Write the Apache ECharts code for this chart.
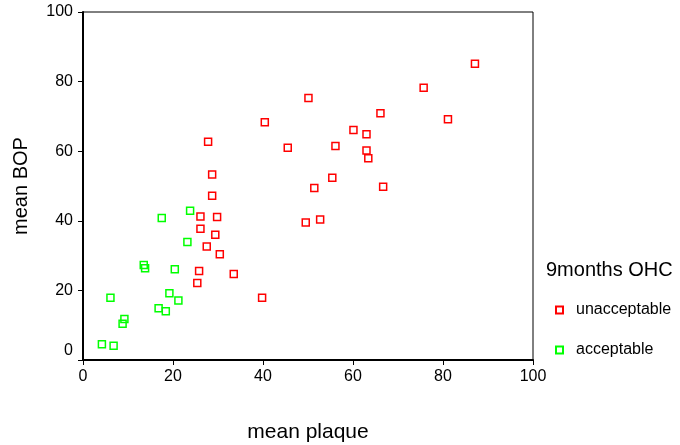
<!DOCTYPE html>
<html>
<head>
<meta charset="utf-8">
<script src="https://cdn.jsdelivr.net/npm/echarts@6/dist/echarts.min.js"></script>
<style>html,body{margin:0;padding:0;background:#fff}#c{width:680px;height:445px}</style>
</head>
<body>
<div id="c"></div>
<script>
var xTicks = [0, 20, 40, 60, 80, 100];
var yTicks = [0, 20, 40, 60, 80, 100];
var seriesNames = ['unacceptable', 'acceptable'];
var unacceptable = [
  [27.8, 62.7], [28.7, 53.3], [28.7, 47.2], [26.1, 41.2], [29.8, 41.1],
  [26.1, 37.7], [29.4, 36.0], [27.5, 32.6], [30.4, 30.4], [25.8, 25.6],
  [25.4, 22.1], [33.5, 24.7], [39.8, 17.9], [40.4, 68.3], [45.5, 61.0],
  [50.1, 75.3], [87.1, 85.1], [75.7, 78.2], [81.1, 69.2], [66.1, 70.9],
  [60.1, 66.1], [63.0, 64.9], [56.1, 61.5], [63.0, 60.2], [63.4, 58.0],
  [55.4, 52.4], [51.4, 49.4], [66.7, 49.8], [49.5, 39.5], [52.7, 40.4]
];
var acceptable = [
  [4.2, 4.5], [6.8, 4.1], [6.1, 17.9], [8.8, 10.4], [9.2, 11.8],
  [13.5, 27.3], [13.8, 26.4], [16.8, 14.9], [18.4, 14.0], [19.2, 19.2],
  [17.5, 40.8], [20.4, 26.1], [21.2, 17.1], [23.2, 33.9], [23.8, 42.9]
];
var FONT = 'Liberation Sans, Arial, sans-serif';
var chart = echarts.init(document.getElementById('c'), null, {renderer: 'canvas'});
function mkSeries(name, data, color) {
  return {
    name: name, type: 'scatter', data: data, symbol: 'rect', symbolSize: 7,
    itemStyle: {color: 'rgba(255,255,255,0)', borderColor: color, borderWidth: 1.5, opacity: 1},
    emphasis: {disabled: true}
  };
}
chart.setOption({
  animation: false,
  backgroundColor: '#fff',
  title: {
    text: '9months OHC', left: 541, top: 255,
    textStyle: {fontFamily: FONT, fontSize: 20, fontWeight: 'normal', color: '#000'}
  },
  legend: {
    orient: 'vertical', left: 555, top: 302, padding: 0, itemGap: 24, itemWidth: 7, itemHeight: 7,
    data: seriesNames,
    textStyle: {fontFamily: FONT, fontSize: 16, color: '#000', padding: [3, 0, 0, 8]}
  },
  grid: {
    left: 83, right: 147, top: 12, bottom: 85, containLabel: false, outerBoundsMode: 'none',
    show: true, borderColor: '#000', borderWidth: 1, backgroundColor: 'transparent'
  },
  xAxis: {
    type: 'value', min: xTicks[0], max: xTicks[xTicks.length - 1], interval: 20,
    name: 'mean plaque', nameLocation: 'middle', nameGap: 62,
    nameTextStyle: {fontFamily: FONT, fontSize: 21, color: '#000'},
    axisLine: {show: true, onZero: false, lineStyle: {color: '#000', width: 2}},
    axisTick: {show: true, length: 5, lineStyle: {color: '#000', width: 1}},
    axisLabel: {fontFamily: FONT, fontSize: 16, color: '#000', margin: 9},
    splitLine: {show: false}
  },
  yAxis: {
    type: 'value', min: yTicks[0], max: yTicks[yTicks.length - 1], interval: 20,
    name: 'mean BOP', nameLocation: 'middle', nameGap: 52,
    nameTextStyle: {fontFamily: FONT, fontSize: 20, color: '#000'},
    axisLine: {show: true, onZero: false, lineStyle: {color: '#000', width: 2}},
    axisTick: {show: true, length: 5, lineStyle: {color: '#000', width: 1}},
    axisLabel: {
      fontFamily: FONT, fontSize: 16, color: '#000', margin: 10,
      formatter: function (v) { return v === 0 ? '{z|0}' : String(v); },
      rich: {z: {fontFamily: FONT, fontSize: 16, color: '#000', padding: [0, 0, 18, 0]}}
    },
    splitLine: {show: false}
  },
  series: [
    mkSeries(seriesNames[0], unacceptable, '#ff0000'),
    mkSeries(seriesNames[1], acceptable, '#00ff00')
  ]
});
</script>
</body>
</html>
